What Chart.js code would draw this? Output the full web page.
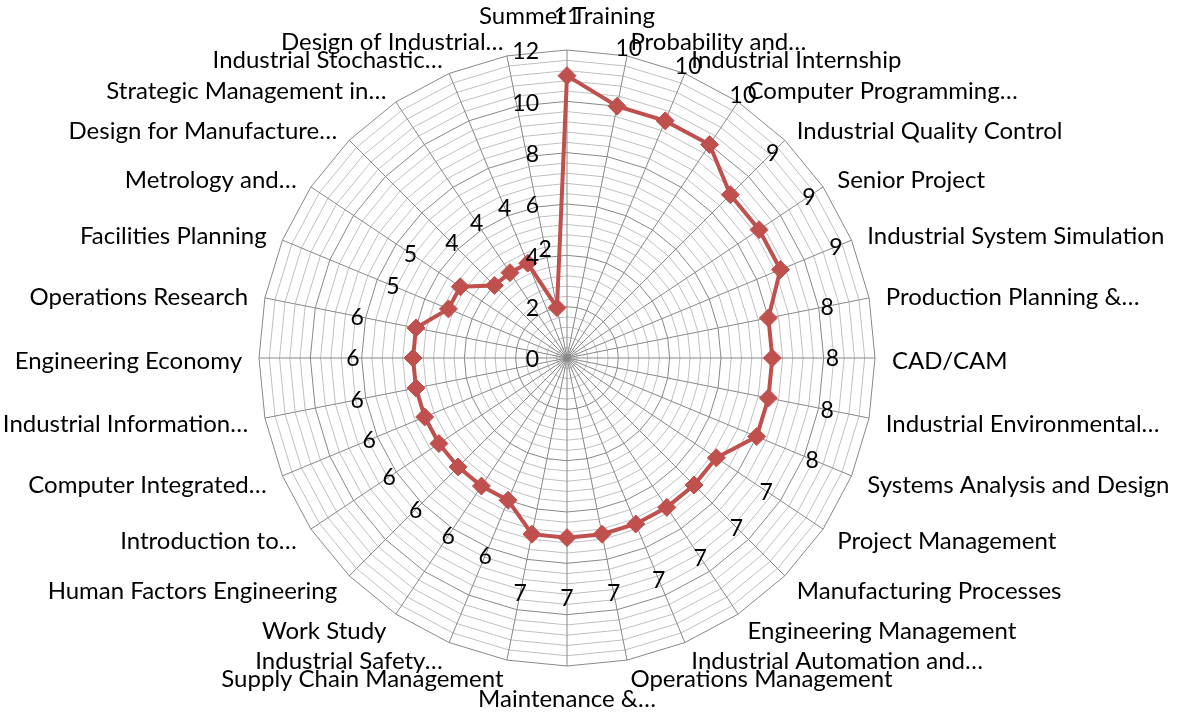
<!doctype html>
<html lang="en">
  <head>
    <meta charset="utf-8">
    <title>Radar chart</title>
    <style>
      * { margin: 0; padding: 0; }
      body { background: #fff; }
      .chartBox { width: 1179px; height: 715px; }
    </style>
  </head>
  <body>
    <div class="chartBox">
      <canvas id="myChart" width="1179" height="715"></canvas>
    </div>
    <script src="https://cdn.jsdelivr.net/npm/chart.js"></script>
    <script>
    // data
    const courses = [
      'Summer Training', 'Probability and\u2026', 'Industrial Internship', 'Computer Programming\u2026',
      'Industrial Quality Control', 'Senior Project', 'Industrial System Simulation', 'Production Planning &\u2026',
      'CAD/CAM', 'Industrial Environmental\u2026', 'Systems Analysis and Design', 'Project Management',
      'Manufacturing Processes', 'Engineering Management', 'Industrial Automation and\u2026', 'Operations Management',
      'Maintenance &\u2026', 'Supply Chain Management', 'Industrial Safety\u2026', 'Work Study',
      'Human Factors Engineering', 'Introduction to\u2026', 'Computer Integrated\u2026', 'Industrial Information\u2026',
      'Engineering Economy', 'Operations Research', 'Facilities Planning', 'Metrology and\u2026',
      'Design for Manufacture\u2026', 'Strategic Management in\u2026', 'Industrial Stochastic\u2026', 'Design of Industrial\u2026'
    ];
    const scores = [
      11, 10, 10, 10, 9, 9, 9, 8,
      8, 8, 8, 7, 7, 7, 7, 7,
      7, 7, 6, 6, 6, 6, 6, 6,
      6, 6, 5, 5, 4, 4, 4, 2
    ];
    const tickValues = [0, 2, 4, 6, 8, 10, 12];

    const NAME_FONT = '24px Lato';
    const NUM_FONT = '23px Lato';

    // draws axis numbers, category names and value labels
    const labelPlugin = {
      id: 'labels',
      afterDraw(chart) {
        const ctx = chart.ctx;
        const r = chart.scales.r;
        ctx.save();
        ctx.font = NUM_FONT;
        ctx.fillStyle = '#000';

        // axis numbers, left of the vertical spoke
        ctx.textAlign = 'right';
        ctx.textBaseline = 'middle';
        tickValues.forEach(v => {
          const y = r.yCenter - r.getDistanceFromCenterForValue(v);
          ctx.fillText(String(v), r.xCenter - 28, y + 2);
        });

        // value labels, pushed outward along each spoke
        ctx.textAlign = 'center';
        const meta = chart.getDatasetMeta(0);
        meta.data.forEach((pt, i) => {
          const d = r.getDistanceFromCenterForValue(scores[i]) + 60;
          const p = r.getPointPosition(i, d);
          ctx.fillText(String(scores[i]), p.x, p.y + 1);
        });

        // category names
        ctx.font = NAME_FONT;
        const n = courses.length;
        courses.forEach((name, i) => {
          if (i === 0) {
            const p = r.getPointPosition(i, r.drawingArea + 22);
            ctx.textAlign = 'center';
            ctx.textBaseline = 'bottom';
            ctx.fillText(name, p.x, p.y);
          } else if (i === n / 2) {
            const p = r.getPointPosition(i, r.drawingArea + 21);
            ctx.textAlign = 'center';
            ctx.textBaseline = 'top';
            ctx.fillText(name, p.x, p.y);
          } else {
            const p = r.getPointPosition(i, r.drawingArea + 17);
            ctx.textAlign = i < n / 2 ? 'left' : 'right';
            ctx.textBaseline = 'middle';
            ctx.fillText(name, p.x, p.y + 3);
          }
        });
        ctx.restore();
      }
    };

    const isMajor = v => Math.abs(Math.round(v / 2) * 2 - v) < 1e-6;

    const data = {
      labels: courses,
      datasets: [{
        label: 'Score',
        data: scores,
        borderColor: '#C0504D',
        backgroundColor: '#C0504D',
        borderWidth: 4,
        fill: false,
        tension: 0,
        pointStyle: 'rectRot',
        pointRadius: 9,
        pointBackgroundColor: '#C0504D',
        pointBorderColor: '#C0504D',
        pointBorderWidth: 1
      }]
    };

    const config = {
      type: 'radar',
      data,
      options: {
        responsive: false,
        animation: false,
        layout: { padding: { top: 50, bottom: 49, left: 0, right: 45 } },
        plugins: { legend: { display: false }, tooltip: { enabled: false } },
        scales: {
          r: {
            min: 0,
            max: 12,
            ticks: { display: false, stepSize: 0.4, maxTicksLimit: 100 },
            pointLabels: { display: false },
            grid: {
              circular: false,
              lineWidth: 1,
              color: c => isMajor(c.tick.value) ? '#888888' : '#c0c0c0'
            },
            angleLines: { color: '#888888', lineWidth: 1 }
          }
        }
      },
      plugins: [labelPlugin]
    };

    const myChart = new Chart(document.getElementById('myChart'), config);
    </script>
  </body>
</html>
